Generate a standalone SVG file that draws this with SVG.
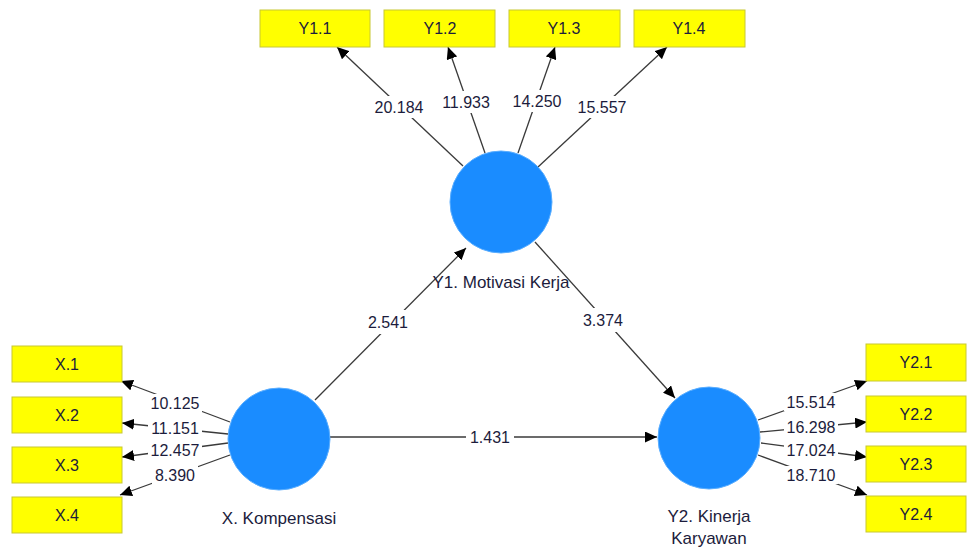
<svg xmlns="http://www.w3.org/2000/svg" width="968" height="547" viewBox="0 0 968 547">
<style>
.box{fill:#ffff00;stroke:#c8c832;stroke-width:1}
.lv{fill:#1a8cff;stroke:#5aaeff;stroke-width:1}
.t{font-family:"Liberation Sans",Arial,sans-serif;font-size:16px;fill:#1c1c3c;text-anchor:middle}
.nm{font-family:"Liberation Sans",Arial,sans-serif;font-size:17px;fill:#1c1c3c;text-anchor:middle}
.n{font-family:"Liberation Sans",Arial,sans-serif;font-size:16px;fill:#1c1c3c;text-anchor:middle}
.bg{fill:#ffffff}
.e{stroke:#3a3a3a;stroke-width:1.3;fill:none;marker-end:url(#ah)}
</style>
<defs>
<marker id="ah" markerUnits="userSpaceOnUse" markerWidth="13" markerHeight="11" refX="12" refY="5.5" orient="auto">
<path d="M0,0 L12,5.5 L0,11 z" fill="#000"/>
</marker>
</defs>
<rect width="968" height="547" fill="#fff"/>
<g id="connectors">
<line class="e" x1="463" y1="166" x2="337" y2="47"/>
<line class="e" x1="485" y1="153" x2="448" y2="47"/>
<line class="e" x1="518" y1="153" x2="555" y2="47"/>
<line class="e" x1="538" y1="167" x2="667" y2="47"/>
<line class="e" x1="230" y1="422" x2="121" y2="381"/>
<line class="e" x1="228" y1="434" x2="122" y2="423"/>
<line class="e" x1="228" y1="443" x2="122" y2="457"/>
<line class="e" x1="230" y1="455" x2="120" y2="495"/>
<line class="e" x1="758" y1="420" x2="867" y2="381"/>
<line class="e" x1="760" y1="432" x2="867" y2="422"/>
<line class="e" x1="761" y1="443" x2="867" y2="457"/>
<line class="e" x1="758" y1="455" x2="867" y2="495"/>
<line class="e" x1="315" y1="400" x2="466" y2="248"/>
<line class="e" x1="535" y1="242" x2="675" y2="398"/>
<line class="e" x1="330" y1="437" x2="657" y2="437"/>
<g id="edge-labels">
<rect class="bg" x="372" y="96" width="54" height="22"/><text class="n" x="399" y="113">20.184</text>
<rect class="bg" x="439" y="91" width="54" height="22"/><text class="n" x="466" y="108">11.933</text>
<rect class="bg" x="510" y="90" width="54" height="22"/><text class="n" x="537" y="107">14.250</text>
<rect class="bg" x="575" y="96" width="54" height="22"/><text class="n" x="602" y="113">15.557</text>
<rect class="bg" x="148" y="394" width="54" height="18"/><text class="n" x="175" y="409">10.125</text>
<rect class="bg" x="148" y="419" width="54" height="18"/><text class="n" x="175" y="434">11.151</text>
<rect class="bg" x="148" y="441" width="54" height="18"/><text class="n" x="175" y="456">12.457</text>
<rect class="bg" x="152" y="466" width="46" height="18"/><text class="n" x="175" y="481">8.390</text>
<rect class="bg" x="784" y="393" width="54" height="18"/><text class="n" x="811" y="408">15.514</text>
<rect class="bg" x="784" y="418" width="54" height="18"/><text class="n" x="811" y="433">16.298</text>
<rect class="bg" x="784" y="441" width="54" height="18"/><text class="n" x="811" y="456">17.024</text>
<rect class="bg" x="784" y="466" width="54" height="18"/><text class="n" x="811" y="481">18.710</text>
<rect class="bg" x="364" y="310" width="48" height="24"/><text class="n" x="388" y="328">2.541</text>
<rect class="bg" x="579" y="308" width="48" height="24"/><text class="n" x="603" y="326">3.374</text>
<rect class="bg" x="466" y="427" width="48" height="20"/><text class="n" x="490" y="443">1.431</text>
</g>
</g>
<g id="Y1.1"><rect class="box" x="260" y="10" width="110" height="37"/><text class="t" x="315" y="34">Y1.1</text></g>
<g id="Y1.2"><rect class="box" x="384" y="10" width="111" height="37"/><text class="t" x="440" y="34">Y1.2</text></g>
<g id="Y1.3"><rect class="box" x="509" y="10" width="111" height="37"/><text class="t" x="564" y="34">Y1.3</text></g>
<g id="Y1.4"><rect class="box" x="634" y="10" width="111" height="37"/><text class="t" x="689" y="34">Y1.4</text></g>
<g id="X.1"><rect class="box" x="12" y="346" width="110" height="36"/><text class="t" x="67" y="370">X.1</text></g>
<g id="X.2"><rect class="box" x="12" y="397" width="110" height="36"/><text class="t" x="67" y="421">X.2</text></g>
<g id="X.3"><rect class="box" x="12" y="447" width="110" height="36"/><text class="t" x="67" y="471">X.3</text></g>
<g id="X.4"><rect class="box" x="12" y="497" width="110" height="36"/><text class="t" x="67" y="521">X.4</text></g>
<g id="Y2.1"><rect class="box" x="866" y="344" width="100" height="37"/><text class="t" x="916" y="368">Y2.1</text></g>
<g id="Y2.2"><rect class="box" x="866" y="396" width="100" height="36"/><text class="t" x="916" y="420">Y2.2</text></g>
<g id="Y2.3"><rect class="box" x="866" y="446" width="100" height="36"/><text class="t" x="916" y="470">Y2.3</text></g>
<g id="Y2.4"><rect class="box" x="866" y="496" width="100" height="36"/><text class="t" x="916" y="520">Y2.4</text></g>
<g id="Y1"><circle class="lv" cx="501" cy="202" r="51"/><text class="nm" x="501" y="288">Y1. Motivasi Kerja</text></g>
<g id="X"><circle class="lv" cx="279" cy="439" r="51"/><text class="nm" x="279" y="524">X. Kompensasi</text></g>
<g id="Y2"><circle class="lv" cx="709" cy="438" r="51"/><text class="nm" x="709" y="522">Y2. Kinerja</text><text class="nm" x="709" y="544">Karyawan</text></g>
</svg>
